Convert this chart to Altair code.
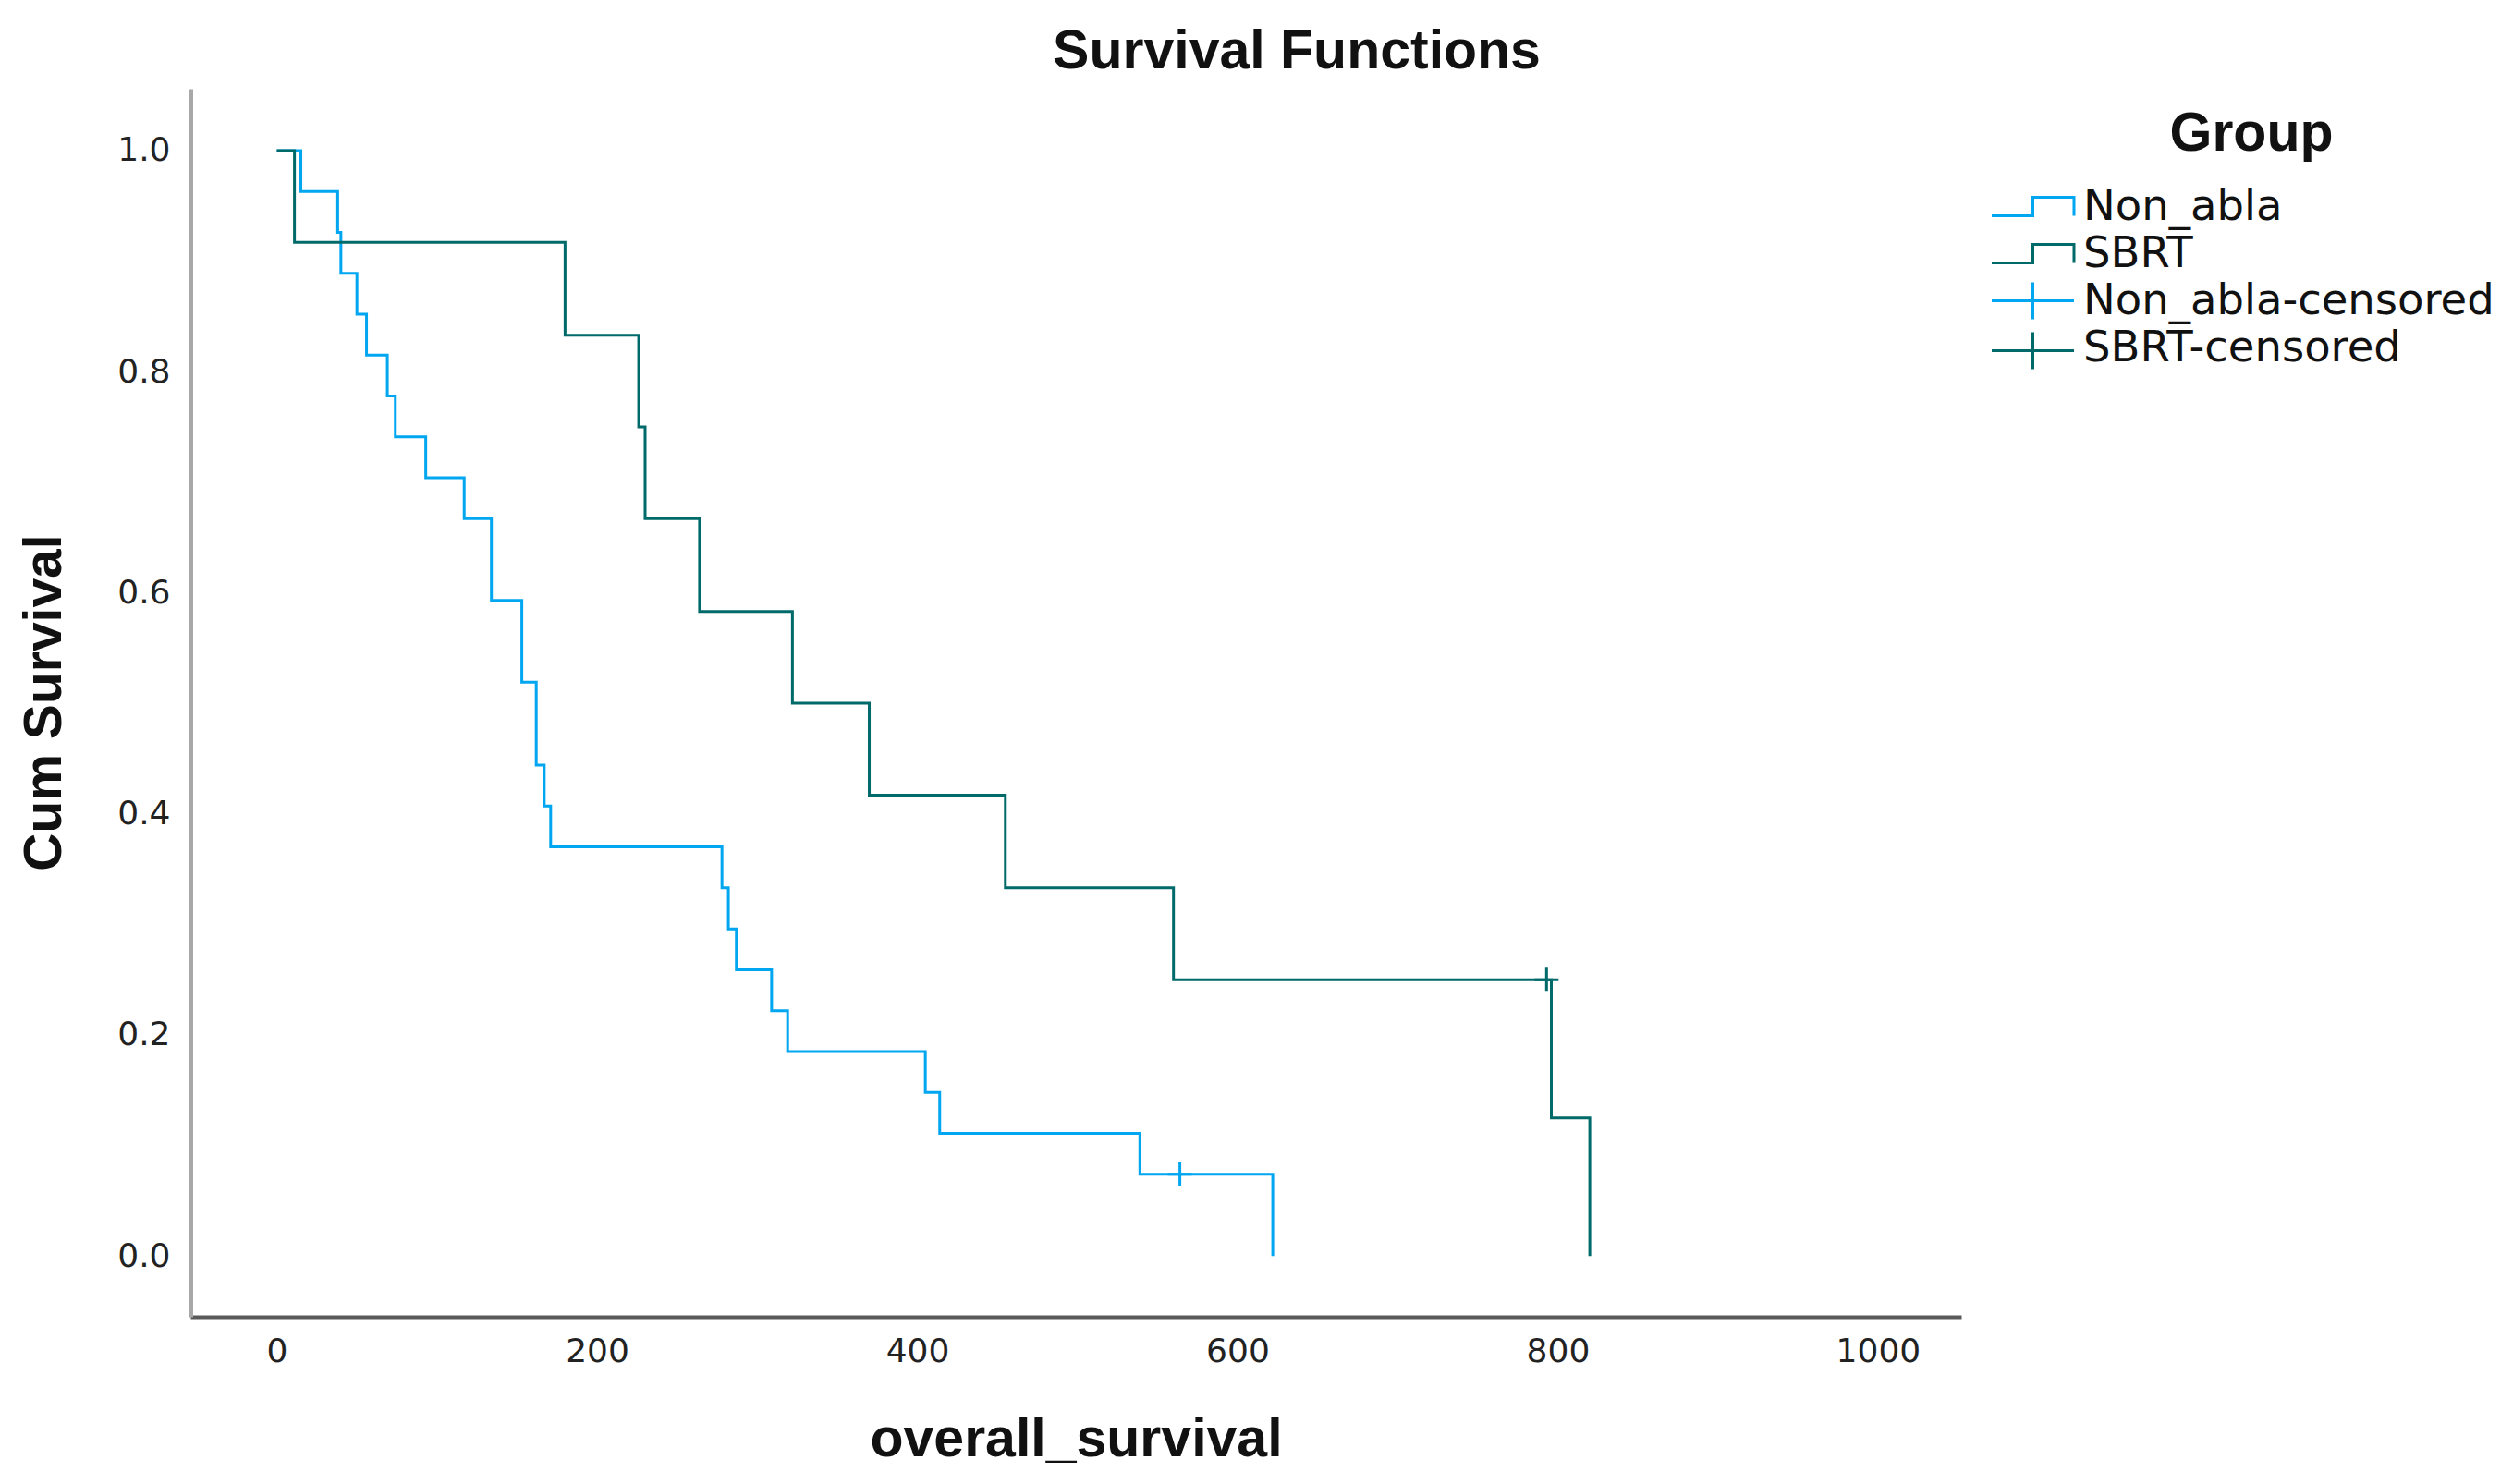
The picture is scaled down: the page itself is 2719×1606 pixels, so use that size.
import altair as alt
import pandas as pd

# ---- data ----
groups = ["Non_abla", "SBRT"]
censor_names = ["Non_abla-censored", "SBRT-censored"]
legend_items = groups + censor_names

non_abla_time = [0, 15, 38, 40, 50, 56, 69, 74, 93, 117, 134, 153, 162, 167, 171,
                 278, 282, 287, 309, 319, 405, 414, 539, 622]
non_abla_surv = [1.0, 0.963, 0.926, 0.889, 0.852, 0.815, 0.778, 0.741, 0.704, 0.667,
                 0.593, 0.519, 0.444, 0.407, 0.370, 0.333, 0.296, 0.259, 0.222, 0.185,
                 0.148, 0.111, 0.074, 0.0]

sbrt_time = [0, 11, 180, 226, 230, 264, 322, 370, 455, 560, 796, 820]
sbrt_surv = [1.0, 0.917, 0.833, 0.75, 0.667, 0.583, 0.5, 0.417, 0.333, 0.25, 0.125, 0.0]

censor_time = [564, 793]
censor_surv = [0.074, 0.25]

x_ticks = [0, 200, 400, 600, 800, 1000]
y_ticks = [0.0, 0.2, 0.4, 0.6, 0.8, 1.0]

group_colors = ["#00a6f0", "#006a6a"]

# ---- tables ----
lines_df = pd.concat([
    pd.DataFrame({"t": non_abla_time, "s": non_abla_surv, "series": groups[0]}),
    pd.DataFrame({"t": sbrt_time, "s": sbrt_surv, "series": groups[1]}),
], ignore_index=True)
cens_df = pd.DataFrame({"t": censor_time, "s": censor_surv, "series": censor_names})

xscale = alt.Scale(domain=[-54, 1052], nice=False, zero=False)
yscale = alt.Scale(domain=[-0.055, 1.056], nice=False, zero=False)

step_path = "M-1.78,0.4H0V-0.4H1.78V0.4"
plus_legend = "M-1.78,0H1.78M0,-0.8V0.8"
plus_mark = "M-1,0H1M0,-1V1"

xaxis = alt.Axis(values=x_ticks, format="d", ticks=False, grid=False,
                 domainColor="#5a5a5a", domainWidth=4,
                 labelFont="DejaVu Sans", labelFontSize=36, labelColor="#222222",
                 labelPadding=20, labelFlush=False,
                 title="overall_survival", titleFont="Liberation Sans",
                 titleFontSize=59, titleFontWeight="bold", titleColor="#111111",
                 titleBaseline="alphabetic", titleY=150)
yaxis = alt.Axis(values=y_ticks, format=".1f", ticks=False, grid=False,
                 domainColor="#a8a8a8", domainWidth=5,
                 labelFont="DejaVu Sans", labelFontSize=36, labelColor="#222222",
                 labelPadding=22, labelFlush=False,
                 title="Cum Survival", titleFont="Liberation Sans",
                 titleFontSize=57, titleFontWeight="bold", titleColor="#111111",
                 titleBaseline="alphabetic", titleAngle=-90, titleAlign="center",
                 titleX=-141, titleY=664)

common_legend = dict(
    orient="none", padding=0, legendX=1967,
    titleFont="Liberation Sans", titleFontSize=59, titleFontWeight="bold",
    titleColor="#111111", titleAnchor="middle", titlePadding=22, titleLimit=800,
    labelFont="DejaVu Sans", labelFontSize=46.5, labelColor="#111111",
    labelOffset=28, rowPadding=1, symbolSize=2500, symbolStrokeWidth=3,
    symbolFillColor="transparent", labelLimit=800,
)

# main legend: all four labels, step symbols (invisible for the censored rows)
lines = alt.Chart(lines_df).mark_line(interpolate="step-after", strokeWidth=3).encode(
    x=alt.X("t:Q", scale=xscale, axis=xaxis),
    y=alt.Y("s:Q", scale=yscale, axis=yaxis),
    color=alt.Color("series:N",
                    scale=alt.Scale(domain=legend_items,
                                    range=group_colors + ["transparent", "transparent"]),
                    legend=alt.Legend(title="Group", legendY=20,
                                      symbolType=step_path, **common_legend)),
)

# second legend: only the plus symbols of the censored rows (labels come from the first)
cens = alt.Chart(cens_df).mark_point(shape=plus_mark, size=676, filled=False,
                                     strokeWidth=3, opacity=1).encode(
    x=alt.X("t:Q", scale=xscale),
    y=alt.Y("s:Q", scale=yscale),
    stroke=alt.Stroke("series:N", scale=alt.Scale(domain=censor_names, range=group_colors),
                      legend=alt.Legend(title=None, legendY=203, labelExpr="''",
                                        symbolType=plus_legend, **common_legend)),
)

chart = alt.layer(lines, cens).properties(
    width=1916, height=1329, background="white",
    padding={"left": 198, "top": 88, "right": 589, "bottom": 173},
    autosize=alt.AutoSizeParams(type="none"),
    title=alt.TitleParams("Survival Functions", font="Liberation Sans", fontSize=59,
                          fontWeight="bold", color="#111111", anchor="middle",
                          frame="group", dx=239, dy=58, baseline="alphabetic", offset=21),
).configure_view(strokeWidth=0, stroke="transparent")

chart.save("out.html", embed_options={"renderer": "svg", "actions": False})
